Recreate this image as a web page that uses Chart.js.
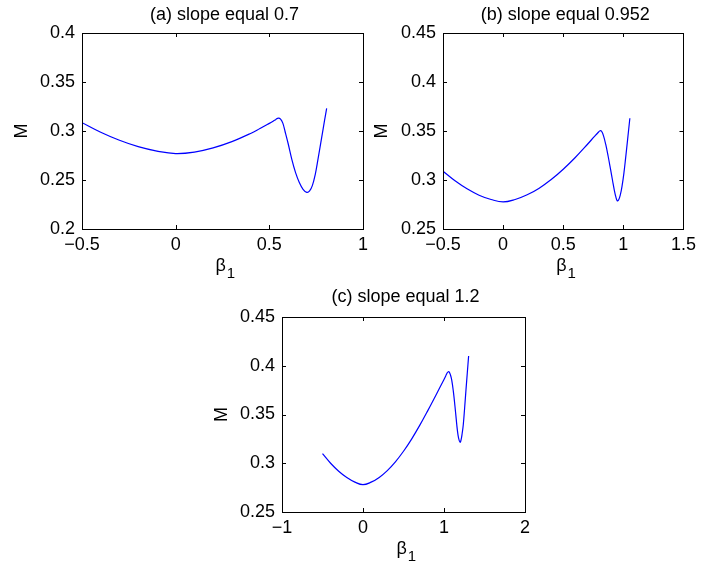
<!DOCTYPE html>
<html>
<head>
<meta charset="utf-8">
<script src="https://cdn.jsdelivr.net/npm/chart.js@4.4.0/dist/chart.umd.min.js"></script>
<style>
  html, body { margin: 0; padding: 0; background: #fff; }
  body { width: 701px; height: 567px; position: relative; overflow: hidden; }
  .panel { position: absolute; }
</style>
</head>
<body>
<div class="panel" style="left:0px;top:0px"><canvas id="chartA" width="375" height="290"></canvas></div>
<div class="panel" style="left:365px;top:0px"><canvas id="chartB" width="336" height="290"></canvas></div>
<div class="panel" style="left:200px;top:280px"><canvas id="chartC" width="340" height="287"></canvas></div>
<script>
// (a) slope equal 0.7
const betaA = [-0.5, -0.4, -0.3, -0.2, -0.1, 0, 0.1, 0.2, 0.3, 0.4, 0.45, 0.5, 0.52, 0.535, 0.548, 0.56, 0.572, 0.584, 0.6, 0.62, 0.64, 0.66, 0.68, 0.70, 0.715, 0.73, 0.745, 0.76, 0.78, 0.795, 0.806];
const mA = [0.3085, 0.2987, 0.2905, 0.284, 0.2795, 0.277, 0.2785, 0.2828, 0.2892, 0.2975, 0.3025, 0.3078, 0.31, 0.3118, 0.3132, 0.3122, 0.308, 0.2995, 0.2875, 0.271, 0.2575, 0.2475, 0.2405, 0.2374, 0.2388, 0.2445, 0.2555, 0.2715, 0.294, 0.311, 0.323];
const xTicksA = [-0.5, 0, 0.5, 1];
const yTicksA = [0.2, 0.25, 0.3, 0.35, 0.4];

// (b) slope equal 0.952
const betaB = [-0.5, -0.4, -0.3, -0.2, -0.1, 0, 0.1, 0.2, 0.3, 0.4, 0.5, 0.6, 0.7, 0.76, 0.79, 0.806, 0.82, 0.835, 0.853, 0.873, 0.894, 0.91, 0.925, 0.938, 0.949, 0.96, 0.975, 0.99, 1.005, 1.018, 1.035, 1.054];
const mB = [0.309, 0.2992, 0.291, 0.2845, 0.2801, 0.2776, 0.2801, 0.2849, 0.2917, 0.3005, 0.311, 0.323, 0.3362, 0.3445, 0.3485, 0.3503, 0.3495, 0.345, 0.3365, 0.3245, 0.3105, 0.2995, 0.2895, 0.2825, 0.2788, 0.2795, 0.285, 0.2945, 0.3075, 0.3215, 0.341, 0.363];
const xTicksB = [-0.5, 0, 0.5, 1, 1.5];
const yTicksB = [0.25, 0.3, 0.35, 0.4, 0.45];

// (c) slope equal 1.2
const betaC = [-0.5, -0.4, -0.3, -0.2, -0.1, 0, 0.1, 0.2, 0.3, 0.4, 0.5, 0.6, 0.7, 0.8, 0.9, 1.0, 1.025, 1.04, 1.053, 1.065, 1.08, 1.095, 1.115, 1.136, 1.15, 1.165, 1.18, 1.198, 1.212, 1.225, 1.238, 1.255, 1.272, 1.288, 1.304];
const mC = [0.3098, 0.3, 0.2918, 0.2853, 0.2806, 0.278, 0.2806, 0.2855, 0.2925, 0.3015, 0.3123, 0.3248, 0.3388, 0.354, 0.3698, 0.386, 0.3902, 0.3928, 0.3939, 0.3935, 0.3905, 0.3855, 0.374, 0.358, 0.346, 0.334, 0.3258, 0.3215, 0.3245, 0.331, 0.3395, 0.357, 0.376, 0.393, 0.41];
const xTicksC = [-1, 0, 1, 2];
const yTicksC = [0.25, 0.3, 0.35, 0.4, 0.45];

Chart.defaults.color = '#000';
Chart.defaults.font.family = '"Liberation Sans", Arial, Helvetica, sans-serif';
Chart.defaults.font.size = 18;

function fmt(v) {
    return String(+v.toFixed(3)).replace('-', '\u2212');
}

// Matlab style box, inward ticks, title and beta_1 label
const matlabBox = {
    id: 'matlabBox',
    afterDraw(chart, args, opts) {
        const c = chart.ctx;
        const a = chart.chartArea;
        const xs = chart.scales.x, ys = chart.scales.y;
        const tl = 4;
        c.save();
        c.strokeStyle = '#000';
        c.lineWidth = 1;
        c.beginPath();
        xs.ticks.forEach(t => {
            const px = Math.round(xs.getPixelForValue(t.value)) + 0.5;
            c.moveTo(px, a.bottom); c.lineTo(px, a.bottom - tl);
            c.moveTo(px, a.top); c.lineTo(px, a.top + tl);
        });
        ys.ticks.forEach(t => {
            const py = Math.round(ys.getPixelForValue(t.value)) + 0.5;
            c.moveTo(a.left, py); c.lineTo(a.left + tl, py);
            c.moveTo(a.right, py); c.lineTo(a.right - tl, py);
        });
        c.stroke();
        c.strokeRect(Math.round(a.left) + 0.5, Math.round(a.top) + 0.5,
            Math.round(a.right - a.left), Math.round(a.bottom - a.top));

        const cx = (a.left + a.right) / 2;
        c.fillStyle = '#000';
        c.textAlign = 'center';
        c.textBaseline = 'middle';
        c.font = '18px "Liberation Sans", Arial, sans-serif';
        c.fillText(opts.title, cx + 2, opts.titleY);

        // beta with subscript 1
        c.textAlign = 'left';
        c.textBaseline = 'alphabetic';
        c.font = '18px "Liberation Sans", Arial, sans-serif';
        const bw = c.measureText('\u03b2').width;
        const bx = cx - 7;
        c.fillText('\u03b2', bx, a.bottom + 42);
        c.font = '15px "Liberation Sans", Arial, sans-serif';
        c.fillText('1', bx + bw + 1, a.bottom + 49);
        c.restore();
    }
};

function makeChart(id, xs, ys, xTicks, yTicks, title, pad) {
    return new Chart(document.getElementById(id), {
        type: 'line',
        data: {
            datasets: [{
                data: xs.map((x, i) => ({ x: x, y: ys[i] })),
                borderColor: '#0000ff',
                borderWidth: 1.2,
                pointRadius: 0,
                fill: false,
                tension: 0.4
            }]
        },
        options: {
            responsive: false,
            animation: false,
            layout: { padding: { top: pad.top, right: pad.right, left: 0, bottom: 0 } },
            scales: {
                x: {
                    type: 'linear',
                    min: xTicks[0],
                    max: xTicks[xTicks.length - 1],
                    afterBuildTicks: s => { s.ticks = xTicks.map(v => ({ value: v })); },
                    afterFit: s => { s.height = pad.bottom; },
                    grid: { display: false, drawTicks: false },
                    border: { display: false },
                    ticks: { padding: 5, maxRotation: 0, autoSkip: false, callback: v => fmt(v) }
                },
                y: {
                    type: 'linear',
                    min: yTicks[0],
                    max: yTicks[yTicks.length - 1],
                    afterBuildTicks: s => { s.ticks = yTicks.map(v => ({ value: v })); },
                    afterFit: s => { s.width = pad.left; },
                    grid: { display: false, drawTicks: false },
                    border: { display: false },
                    ticks: { padding: 7, autoSkip: false, callback: v => fmt(v) },
                    title: { display: true, text: 'M', padding: { top: pad.mTop, bottom: 0 } }
                }
            },
            plugins: {
                legend: { display: false },
                tooltip: { enabled: false },
                matlabBox: { title: title, titleY: pad.titleY }
            }
        },
        plugins: [matlabBox]
    });
}

makeChart('chartA', betaA, mA, xTicksA, yTicksA, '(a) slope equal 0.7',
    { top: 33, right: 12, left: 82, bottom: 61, mTop: 11, titleY: 15 });
makeChart('chartB', betaB, mB, xTicksB, yTicksB, '(b) slope equal 0.952',
    { top: 33, right: 16, left: 78, bottom: 61, mTop: 6, titleY: 15 });
makeChart('chartC', betaC, mC, xTicksC, yTicksC, '(c) slope equal 1.2',
    { top: 37, right: 15, left: 82, bottom: 55, mTop: 11, titleY: 17 });
</script>
</body>
</html>
